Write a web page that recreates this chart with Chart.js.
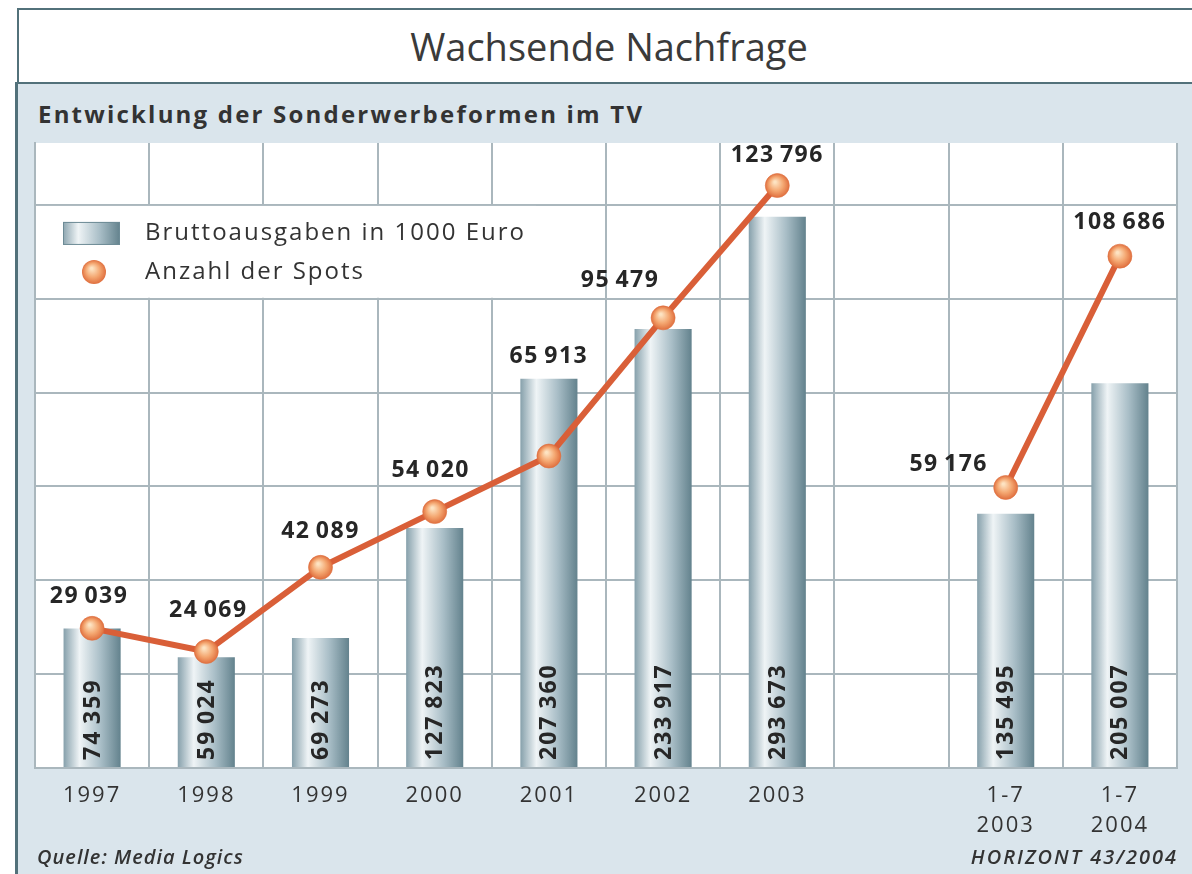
<!doctype html>
<html lang="de">
<head>
    <meta charset="utf-8">
    <title>Wachsende Nachfrage</title>
    <style>
        body { margin: 0; width: 1192px; height: 874px; overflow: hidden; background: #fff; font-family: "Open Sans", sans-serif; color: #333; position: relative; }
        #title { position: absolute; left: 17px; top: 8px; width: 1180px; height: 74px; border: 2px solid #52717a; border-bottom: none; text-align: center; line-height: 72px; font-size: 38px; color: #3a3a3a; }
        #panel { position: absolute; left: 15px; top: 82px; width: 1200px; height: 820px; background: #dae5ec; border-left: 3px solid #52717a; border-top: 2px solid #52717a; }
        #sub { position: absolute; left: 38px; top: 98px; font-size: 24px; font-weight: bold; letter-spacing: 2.2px; line-height: 32px; color: #333; }
        #src { position: absolute; left: 37px; top: 843px; font-size: 20px; font-style: italic; font-weight: 600; letter-spacing: 1px; color: #333; }
        #hz { position: absolute; right: 14px; top: 843px; font-size: 20px; font-style: italic; font-weight: 600; letter-spacing: 2px; color: #333; }
        #myChart { position: absolute; left: 17px; top: 85px; }
    </style>
</head>
<body>
    <div id="title">Wachsende Nachfrage</div>
    <div id="panel"></div>
    <div id="sub">Entwicklung der Sonderwerbeformen im TV</div>
    <canvas id="myChart" width="1175" height="789"></canvas>
    <div id="src">Quelle: Media Logics</div>
    <div id="hz">HORIZONT 43/2004</div>

    <script src="https://cdn.jsdelivr.net/npm/chart.js"></script>
    <script>
        // data
        var labels = ['1997', '1998', '1999', '2000', '2001', '2002', '2003', '', ['1-7', '2003'], ['1-7', '2004']];
        var brutto = [74359, 59024, 69273, 127823, 207360, 233917, 293673, null, 135495, 205007];
        var spots = [29039, 24069, 42089, 54020, 65913, 95479, 123796, null, 59176, 108686];
        var legendNames = ['Bruttoausgaben in 1000 Euro', 'Anzahl der Spots'];

        // where the spot numbers sit relative to their marker
        var spotLabelShift = [[-3, -32], [2, -41], [0, -36], [-4, -41], [0, -100], [-43, -37], [0, -30], [0, 0], [-57, -23], [0, -34]];

        var BAR_PCT = 0.5;
        var GRID_STEP = 50000;

        function fmt(v) {
            return String(v).replace(/\B(?=(\d{3})+(?!\d))/g, '\u2009');
        }

        function barGradient(c, cx, half) {
            var g = c.createLinearGradient(cx - half, 0, cx + half, 0);
            g.addColorStop(0, '#86a0ab');
            g.addColorStop(0.28, '#eff4f6');
            g.addColorStop(0.65, '#a9bec7');
            g.addColorStop(1, '#63828d');
            return g;
        }

        function dotGradient(c, x, y, r) {
            var g = c.createRadialGradient(x - r * 0.2, y - r * 0.3, 1, x, y, r);
            g.addColorStop(0, '#fde3c2');
            g.addColorStop(0.55, '#f4a771');
            g.addColorStop(1, '#e0703f');
            return g;
        }

        function barFill(ctx) {
            var chart = ctx.chart;
            var xs = chart.scales.x;
            if (!xs || !chart.chartArea) return '#b5c8d0';
            var cx = xs.getPixelForValue(ctx.dataIndex);
            var half = xs.width / labels.length * BAR_PCT / 2;
            if (!isFinite(cx) || !isFinite(half) || half <= 0) return '#b5c8d0';
            return barGradient(chart.ctx, cx, half);
        }

        function dotFill(ctx) {
            var chart = ctx.chart;
            var xs = chart.scales.x, ys = chart.scales.y2;
            var v = spots[ctx.dataIndex];
            if (!xs || !ys || v == null) return '#f0a070';
            var px = xs.getPixelForValue(ctx.dataIndex), py = ys.getPixelForValue(v);
            if (!isFinite(px) || !isFinite(py)) return '#f0a070';
            return dotGradient(chart.ctx, px, py, 12);
        }

        var decorate = {
            id: 'decorate',
            beforeDraw: function (chart) {
                var a = chart.chartArea, c = chart.ctx;
                c.save();
                c.fillStyle = '#fff';
                c.fillRect(a.left, a.top, a.right - a.left, a.bottom - a.top);
                c.restore();
                // wider spacing for the year labels
                c.letterSpacing = '2px';
            },
            beforeDatasetsDraw: function (chart) {
                var a = chart.chartArea, c = chart.ctx;
                var ys = chart.scales.y;
                var y1 = ys.getPixelForValue(300000), y0 = ys.getPixelForValue(250000);
                c.save();
                // white box behind the legend
                c.fillStyle = '#fff';
                c.fillRect(a.left + 1, y1 + 1, 500, y0 - y1 - 2);
                // legend
                var lx = a.left + 28, ly1 = y1 + 28, ly2 = y1 + 67;
                c.fillStyle = barGradient(c, lx + 28, 29);
                c.fillRect(lx, ly1 - 11, 57, 23);
                c.strokeStyle = '#6d8b96';
                c.lineWidth = 1;
                c.strokeRect(lx + 0.5, ly1 - 10.5, 56, 22);
                c.beginPath();
                c.arc(lx + 31, ly2, 12, 0, Math.PI * 2);
                c.fillStyle = dotGradient(c, lx + 31, ly2, 12);
                c.fill();
                c.fillStyle = '#333';
                c.font = '24px "Open Sans"';
                c.letterSpacing = '2px';
                c.textBaseline = 'middle';
                c.textAlign = 'left';
                c.fillText(legendNames[0], lx + 82, ly1);
                c.fillText(legendNames[1], lx + 82, ly2);
                c.restore();
            },
            afterDatasetsDraw: function (chart) {
                var c = chart.ctx, a = chart.chartArea;
                var xs = chart.scales.x, y2 = chart.scales.y2;
                c.save();
                c.fillStyle = '#262626';
                c.font = 'bold 23px "Open Sans"';
                c.letterSpacing = '2px';
                c.textBaseline = 'middle';
                // rotated values inside the bars
                brutto.forEach(function (v, i) {
                    if (v == null) return;
                    c.save();
                    c.translate(xs.getPixelForValue(i) + 1, a.bottom - 8);
                    c.rotate(-Math.PI / 2);
                    c.textAlign = 'left';
                    c.fillText(fmt(v), 0, 0);
                    c.restore();
                });
                // spot values above the markers
                c.font = 'bold 23px "Open Sans"';
                c.letterSpacing = '1.5px';
                c.textAlign = 'center';
                spots.forEach(function (v, i) {
                    if (v == null) return;
                    var s = spotLabelShift[i];
                    c.fillText(fmt(v), xs.getPixelForValue(i) + s[0], y2.getPixelForValue(v) + s[1]);
                });
                c.restore();
            },
            afterDraw: function (chart) {
                chart.ctx.letterSpacing = '0px';
            }
        };

        new Chart('myChart', {
            type: 'bar',
            data: {
                labels: labels,
                datasets: [{
                    type: 'line',
                    label: legendNames[1],
                    data: spots,
                    yAxisID: 'y2',
                    borderColor: '#d95f38',
                    borderWidth: 6,
                    tension: 0,
                    pointRadius: 12,
                    pointHoverRadius: 12,
                    pointBackgroundColor: dotFill,
                    pointBorderColor: 'rgba(224,112,63,0.6)',
                    pointBorderWidth: 1,
                    order: 0
                }, {
                    label: legendNames[0],
                    data: brutto,
                    yAxisID: 'y',
                    backgroundColor: barFill,
                    borderWidth: 0,
                    barPercentage: BAR_PCT,
                    categoryPercentage: 1,
                    order: 1
                }]
            },
            options: {
                responsive: false,
                animation: false,
                layout: { padding: { left: 18, top: 58, right: 15, bottom: 0 } },
                plugins: {
                    legend: { display: false },
                    tooltip: { enabled: false }
                },
                scales: {
                    x: {
                        offset: true,
                        grid: { offset: true, color: '#aab7bd', lineWidth: 2, drawTicks: false },
                        border: { color: '#aab7bd', width: 2 },
                        ticks: {
                            color: '#333',
                            padding: 13,
                            maxRotation: 0,
                            autoSkip: false,
                            font: { family: 'Open Sans', size: 22, lineHeight: 1.36 }
                        },
                        afterFit: function (s) { s.height = 106; }
                    },
                    y: {
                        min: 0,
                        max: 333000,
                        ticks: { display: false },
                        grid: { color: '#aab7bd', lineWidth: 2, drawTicks: false },
                        border: { color: '#aab7bd', width: 2 },
                        afterBuildTicks: function (s) {
                            var t = [];
                            for (var v = 0; v < s.max; v += GRID_STEP) t.push({ value: v });
                            s.ticks = t;
                        },
                        afterFit: function (s) { s.width = 0; }
                    },
                    y2: {
                        display: false,
                        position: 'right',
                        min: -850,
                        max: 132900
                    }
                }
            },
            plugins: [decorate]
        });
    </script>
</body>
</html>
